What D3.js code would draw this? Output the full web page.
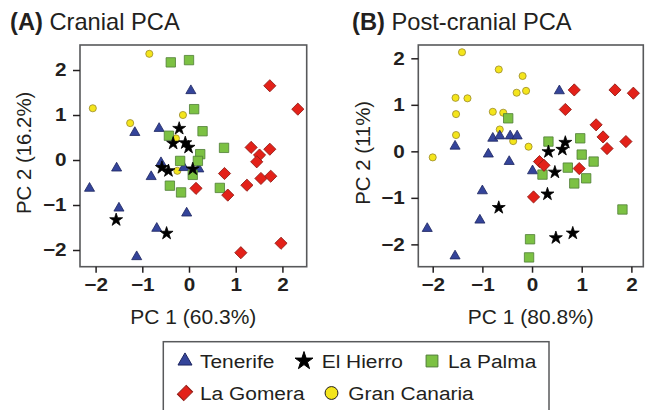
<!DOCTYPE html>
<html>
<head>
<meta charset="utf-8">
<script src="https://d3js.org/d3.v7.min.js"></script>
<style>
body { margin: 0; background: #fff; }
svg { font-family: "Liberation Sans", Arial, sans-serif; }
</style>
</head>
<body>
<div id="chart"></div>
<script>
// groups and axis ticks
var islands = ["Tenerife", "El Hierro", "La Palma", "La Gomera", "Gran Canaria"];
var tickVals = [-2, -1, 0, 1, 2];

// (A) cranial PCA: [PC1, PC2]
var cranTenerife = [[0.04,1.54],[-0.64,0.70],[-1.16,0.61],[-1.55,-0.18],[-0.60,-0.06],[-0.81,-0.37],[-2.13,-0.63],[-1.50,-1.07],[-0.05,-1.18],[-0.69,-1.52],[-1.12,-2.15],[-0.11,-0.17],[0.21,-0.20]];
var cranHierro = [[-0.21,0.70],[-0.34,0.37],[-0.08,0.38],[-0.01,0.28],[-0.58,-0.17],[-0.44,-0.24],[0.08,-0.20],[-1.56,-1.33],[-0.48,-1.63]];
var cranPalma = [[-0.39,2.17],[0.00,2.22],[0.11,1.13],[0.29,0.64],[-0.43,0.54],[0.75,0.27],[0.24,0.13],[-0.19,-0.02],[0.19,-0.02],[0.08,-0.33],[-0.41,-0.57],[-0.17,-0.72],[0.66,-0.62]];
var cranGomera = [[1.73,1.65],[2.33,1.13],[1.33,0.28],[1.73,0.24],[1.51,0.11],[1.45,-0.04],[1.54,-0.41],[1.75,-0.36],[1.24,-0.56],[0.76,-0.30],[0.83,-0.78],[0.15,-0.63],[1.97,-1.85],[1.11,-2.06]];
var cranCanaria = [[-0.85,2.36],[-2.06,1.15],[-1.26,0.82],[-0.13,1.00],[-0.28,0.48],[-0.25,-0.24]];

// (B) post-cranial PCA: [PC1, PC2]
var postTenerife = [[0.55,1.30],[-1.55,0.11],[-0.79,0.28],[-0.65,0.33],[-0.44,0.33],[-0.30,0.33],[-0.88,-0.06],[-0.46,-0.22],[0.01,-0.42],[-1.00,-0.85],[-1.05,-1.48],[-2.11,-1.66],[-1.55,-2.25]];
var postHierro = [[0.67,0.19],[0.61,0.04],[0.33,-0.01],[0.46,-0.45],[0.31,-0.92],[-0.67,-1.21],[0.48,-1.86],[0.82,-1.76]];
var postPalma = [[-0.48,0.71],[0.97,0.28],[0.33,0.21],[1.00,-0.07],[1.24,-0.22],[0.72,-0.35],[0.21,-0.50],[1.09,-0.58],[0.85,-0.69],[1.82,-1.25],[-0.04,-1.89],[-0.06,-2.28]];
var postGomera = [[0.85,1.32],[1.67,1.32],[2.04,1.25],[0.67,0.90],[1.29,0.57],[1.43,0.31],[1.89,0.21],[1.51,0.06],[0.15,-0.22],[0.24,-0.30],[0.95,-0.37],[0.03,-0.98]];
var postCanaria = [[-1.41,2.13],[-0.67,1.76],[-0.19,1.62],[-0.31,1.26],[-0.12,1.30],[-1.54,1.15],[-1.30,1.14],[-1.53,0.80],[-0.79,0.85],[-0.58,0.83],[-1.53,0.35],[-0.65,0.47],[-0.38,0.22],[-0.07,0.10],[-2.00,-0.13]];

// marker style per island
var style = {
  "Tenerife":     {type: d3.symbolTriangle, size: 44, fill: "#34449a", stroke: "#1d2660", rot: 0},
  "El Hierro":    {type: d3.symbolStar,     size: 52, fill: "#000",    stroke: "#000",    rot: 0},
  "La Palma":     {type: d3.symbolSquare,   size: 88, fill: "#7cc143", stroke: "#4f7d36", rot: 0},
  "La Gomera":    {type: d3.symbolSquare,   size: 74, fill: "#e32119", stroke: "#8e1a14", rot: 45},
  "Gran Canaria": {type: d3.symbolCircle,   size: 40, fill: "#f4e51c", stroke: "#9a8a2a", rot: 0}
};
var drawOrder = ["Gran Canaria", "Tenerife", "La Palma", "La Gomera", "El Hierro"];

var width = 645, height = 410;

var svg = d3.select("#chart").append("svg")
  .attr("width", width)
  .attr("height", height);

// the original lettering is a bit wide, so text gets a horizontal stretch sx
function label(g, x, y, parts, size, sx, anchor, rotate) {
  var t = g.append("text")
    .attr("transform", "translate(" + x + "," + y + ")" + (rotate ? " rotate(-90)" : "") + " scale(" + sx + ",1)")
    .attr("text-anchor", anchor || "start")
    .style("font-size", size + "px")
    .style("fill", "#231f20");
  parts.forEach(function(p) {
    t.append("tspan").text(p[0]).style("font-weight", p[1] ? "bold" : "normal");
  });
  return t;
}

var panels = [
  {
    title: [["(A)", true], [" Cranial PCA", false]], tx: 10,
    xlab: "PC 1 (60.3%)", ylab: "PC 2 (16.2%)",
    left: 80, right: 306.7, xDom: [-2.334, 2.52], yDom: [-2.371, 2.556], ylx: 31,
    groups: {"Tenerife": cranTenerife, "El Hierro": cranHierro, "La Palma": cranPalma, "La Gomera": cranGomera, "Gran Canaria": cranCanaria}
  },
  {
    title: [["(B)", true], [" Post-cranial PCA", false]], tx: 352,
    xlab: "PC 1 (80.8%)", ylab: "PC 2 (11%)",
    left: 418.3, right: 643.3, xDom: [-2.29, 2.24], yDom: [-2.48, 2.286], ylx: 370,
    groups: {"Tenerife": postTenerife, "El Hierro": postHierro, "La Palma": postPalma, "La Gomera": postGomera, "Gran Canaria": postCanaria}
  }
];
var plotTop = 45, plotBottom = 266.7;

panels.forEach(function(p) {
  var g = svg.append("g");
  var x = d3.scaleLinear().domain(p.xDom).range([p.left, p.right]);
  var y = d3.scaleLinear().domain(p.yDom).range([plotBottom, plotTop]);

  label(g, p.tx, 30, p.title, 23, 1.03, "start");

  g.append("rect")
    .attr("x", p.left).attr("y", plotTop)
    .attr("width", p.right - p.left).attr("height", plotBottom - plotTop)
    .attr("fill", "#fff").attr("stroke", "#58595b").attr("stroke-width", 1.6);

  drawOrder.forEach(function(name) {
    var s = style[name];
    var sym = d3.symbol().type(s.type).size(s.size);
    g.append("g").selectAll("path")
      .data(p.groups[name])
      .enter().append("path")
      .attr("d", sym)
      .attr("transform", function(d) { return "translate(" + x(d[0]) + "," + y(d[1]) + ") rotate(" + s.rot + ")"; })
      .attr("fill", s.fill)
      .attr("stroke", s.stroke)
      .attr("stroke-width", 0.8);
  });

  var ax = g.append("g")
    .attr("transform", "translate(0," + plotBottom + ")")
    .call(d3.axisBottom(x).tickValues(tickVals).tickSize(6).tickPadding(6).tickFormat(d3.format("d")));
  var ay = g.append("g")
    .attr("transform", "translate(" + p.left + ",0)")
    .call(d3.axisLeft(y).tickValues(tickVals).tickSize(7).tickPadding(4).tickFormat(d3.format("d")));
  [ax, ay].forEach(function(a) {
    a.select(".domain").remove();
    a.selectAll("line").attr("stroke", "#231f20").attr("stroke-width", 1.5);
    a.selectAll("text")
      .style("font-family", "'Liberation Sans', Arial, sans-serif")
      .style("font-size", "18px").style("font-weight", "bold").style("fill", "#231f20");
  });
  ax.selectAll("text").attr("transform", "scale(1.15,1)");
  ay.selectAll("text").attr("x", -13.5 / 1.15).attr("transform", "scale(1.15,1)");

  label(g, (p.left + p.right) / 2, 324, [[p.xlab, false]], 20, 1.05, "middle");
  label(g, p.ylx, (plotTop + plotBottom) / 2 - 3, [[p.ylab, false]], 20, 1.02, "middle", true);
});

// legend
var leg = svg.append("g");
leg.append("rect")
  .attr("x", 163.3).attr("y", 341.7)
  .attr("width", 385.7).attr("height", 80)
  .attr("fill", "#fff").attr("stroke", "#58595b").attr("stroke-width", 1.5);

var legPos = {
  "Tenerife":     [185, 361, 200, 367.5],
  "El Hierro":    [304, 361, 321.7, 367.5],
  "La Palma":     [432, 361, 448, 367.5],
  "La Gomera":    [185, 393, 200, 400],
  "Gran Canaria": [331.5, 393, 348.3, 400]
};
var legSize = {"Tenerife": 85, "El Hierro": 100, "La Palma": 140, "La Gomera": 115, "Gran Canaria": 130};

islands.forEach(function(name) {
  var s = style[name], q = legPos[name];
  var sym = d3.symbol().type(s.type).size(legSize[name]);
  leg.append("path")
    .attr("d", sym)
    .attr("transform", "translate(" + q[0] + "," + q[1] + ") rotate(" + s.rot + ")" + (name === "La Gomera" ? " scale(0.85,1.15)" : ""))
    .attr("fill", s.fill)
    .attr("stroke", name === "Gran Canaria" ? "#231f20" : s.stroke)
    .attr("stroke-width", 1);
  label(leg, q[2], q[3], [[name, false]], 19, 1.1, "start");
});
</script>
</body>
</html>
